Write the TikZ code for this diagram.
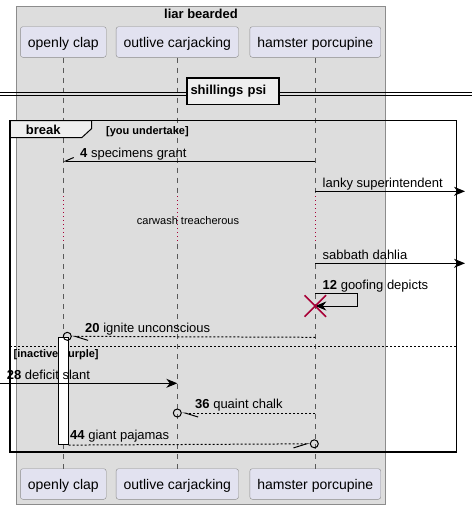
\documentclass[tikz,border=0pt]{standalone}
\usepackage{fontspec}
\setmainfont{Liberation Sans}
\usepackage{tikz}
\usetikzlibrary{arrows.meta}
\usetikzlibrary{positioning}
\usetikzlibrary{shapes.misc}
\tikzset{>=Stealth}
\usepackage{xcolor}
\definecolor{boxgray}{HTML}{DDDDDD}
\definecolor{boxline}{HTML}{8C8C8C}
\definecolor{partfill}{HTML}{E2E2F0}
\definecolor{partline}{HTML}{8C8C8C}
\definecolor{tabfill}{HTML}{EEEEEE}
\definecolor{crimson}{HTML}{A80036}
\tikzstyle{part}=[draw=partline,fill=partfill,rounded corners=2.5pt,minimum height=30.6pt,inner xsep=7.5pt,text height=11pt,text depth=0pt,font=\fontsize{14}{16}\selectfont]
\tikzstyle{msgtext}=[anchor=base west,inner sep=0,font=\fontsize{13}{15}\selectfont]
\tikzstyle{boldtext}=[anchor=base west,inner sep=0,font=\fontsize{11}{13}\selectfont\bfseries]
\def\lifegap{411pt}

\begin{document}
\begin{tikzpicture}[
	x=1pt, y=-1pt,
	msg/.style={line width=1pt},
	reply/.style={line width=1pt, dash pattern=on 2pt off 2pt},
	life/.style={line width=0.8pt, draw=black!65, dash pattern=on 5pt off 5pt},
	lost/.style={circle, draw, line width=1pt, minimum size=8pt, inner sep=0},
	]
	
	\useasboundingbox (0,0) rectangle (472,509);
	
	% Box
	\draw[fill=boxgray, draw=boxline] (16.5,6) rectangle (385.5,504);
	\node[anchor=base, inner sep=0, font=\fontsize{13}{15}\selectfont\bfseries] (boxtitle) at (201,18.3) {liar bearded};
	
	\coordinate (dly1) at (0,196);
	\coordinate (dly2) at (0,244);
	
	\foreach \n/\x/\t in {oc/63.3/openly clap, ol/177.3/outlive carjacking, hp/315.3/hamster porcupine}{
		\node[part] (\n T) at (\x,42) {\t};
		\node[part, below=\lifegap of \n T] (\n B) {\t};
		\draw[life] (\n T.south) -- (\n T.south |- dly1);
		\draw[crimson, line width=0.8pt, dash pattern=on 0.8pt off 3.2pt] (\n T.south |- dly1) -- (\n T.south |- dly2);
		\draw[life] (\n T.south |- dly2) -- (\n B.north);
	}
	
	% rows of the messages
	\foreach \r/\y in {a/161, b/191.3, c/263.3, d/293.3, e/306, f/337.3, g/383.3, h/413, i/444.3}
	\foreach \n in {oc,ol,hp}
	\coordinate (\n\r) at (\n T |- 0,\y);
	
	% Divider
	\draw[line width=1pt] (0,92.7) -- (472,92.7) (0,95.7) -- (472,95.7);
	\node[draw, line width=1.5pt, fill=tabfill, minimum height=26.7pt, text width=85pt, inner xsep=3.5pt, align=left, font=\fontsize{13}{15}\selectfont\bfseries] (div) at (233,91.3) {shillings psi};
	
	% Break
	\draw[fill=tabfill, line width=1pt] (10,120.7) -- (91.7,120.7) -- (91.7,128.5) -- (81.7,137.7) -- (10,137.7) -- cycle;
	\draw[line width=1.5pt] (10,120.7) rectangle (456.7,452);
	\node[anchor=base, inner sep=0, font=\fontsize{13}{15}\selectfont\bfseries] (brk) at (43.3,134) {break};
	\node[boldtext] (grd1) at (106,134) {[you undertake]};
	
	\coordinate (sepL) at (10,346);
	\coordinate (sepR) at (456.7,346);
	\draw[line width=1pt, dash pattern=on 2pt off 2pt] (sepL) -- (sepR);
	\node[boldtext] (grd2) at (13.5,357.7) {[inactive purple]};
	
	% Messages
	\draw[msg, -{Straight Barb[right, length=8pt, width=7pt]}] (hpa) -- (oca);
	\node[msgtext] (l4) at (80,157.7) {\textbf{4} specimens grant};
	
	\coordinate (outb) at (465,191.3);
	\coordinate (outc) at (465,263.3);
	\draw[msg, -{Stealth[length=11pt, width=9pt, inset=3.5pt]}] (hpb) -- (outb);
	\node[msgtext] (l6) at (322.5,187.5) {lanky superintendent};
	
	\node[font=\fontsize{11}{13}\selectfont, anchor=base, inner sep=0] (dly) at (188,224.3) {carwash treacherous};
	
	\draw[msg, -{Stealth[length=11pt, width=9pt, inset=3.5pt]}] (hpc) -- (outc);
	\node[msgtext] (l10) at (322.5,259.5) {sabbath dahlia};
	
	\draw[msg, -{Stealth[length=11pt, width=9pt, inset=3.5pt]}] (hpd) -- ++(42,0) |- (hpe);
	\node[msgtext] (l12) at (322.5,289.3) {\textbf{12} goofing depicts};
	\node[cross out, draw=crimson, line width=1.5pt, minimum size=20pt, inner sep=0] (x12) at (hpe) {};
	
	\node[draw, fill=white, line width=0.8pt, minimum width=10pt, minimum height=107pt, inner sep=0, anchor=north] (act) at (ocf) {};
	\node[lost] (c20) at (67.3,336.3) {};
	\draw[reply, -{Straight Barb[left, length=13pt, width=8pt]}] (hpf) -- (c20);
	\node[msgtext] (l20) at (85,332.5) {\textbf{20} ignite unconscious};
	
	\coordinate (ing) at (0,383.3);
	\draw[msg, -{Stealth[length=11pt, width=9pt, inset=3.5pt]}] (ing) -- (olg);
	\node[msgtext] (l28) at (6.7,379) {\textbf{28} deficit slant};
	
	\node[lost] (c36) at (olh) {};
	\draw[reply, -{Straight Barb[left, length=13pt, width=8pt]}] (hph) -- (c36);
	\node[msgtext] (l36) at (195,408.7) {\textbf{36} quaint chalk};
	
	\node[lost] (c44) at (314.3,443.8) {};
	\draw[reply, -{Straight Barb[right, length=13pt, width=8pt]}] (act.south east) -- (c44);
	\node[msgtext] (l44) at (70,439.7) {\textbf{44} giant pajamas};
	
\end{tikzpicture}
\end{document}
